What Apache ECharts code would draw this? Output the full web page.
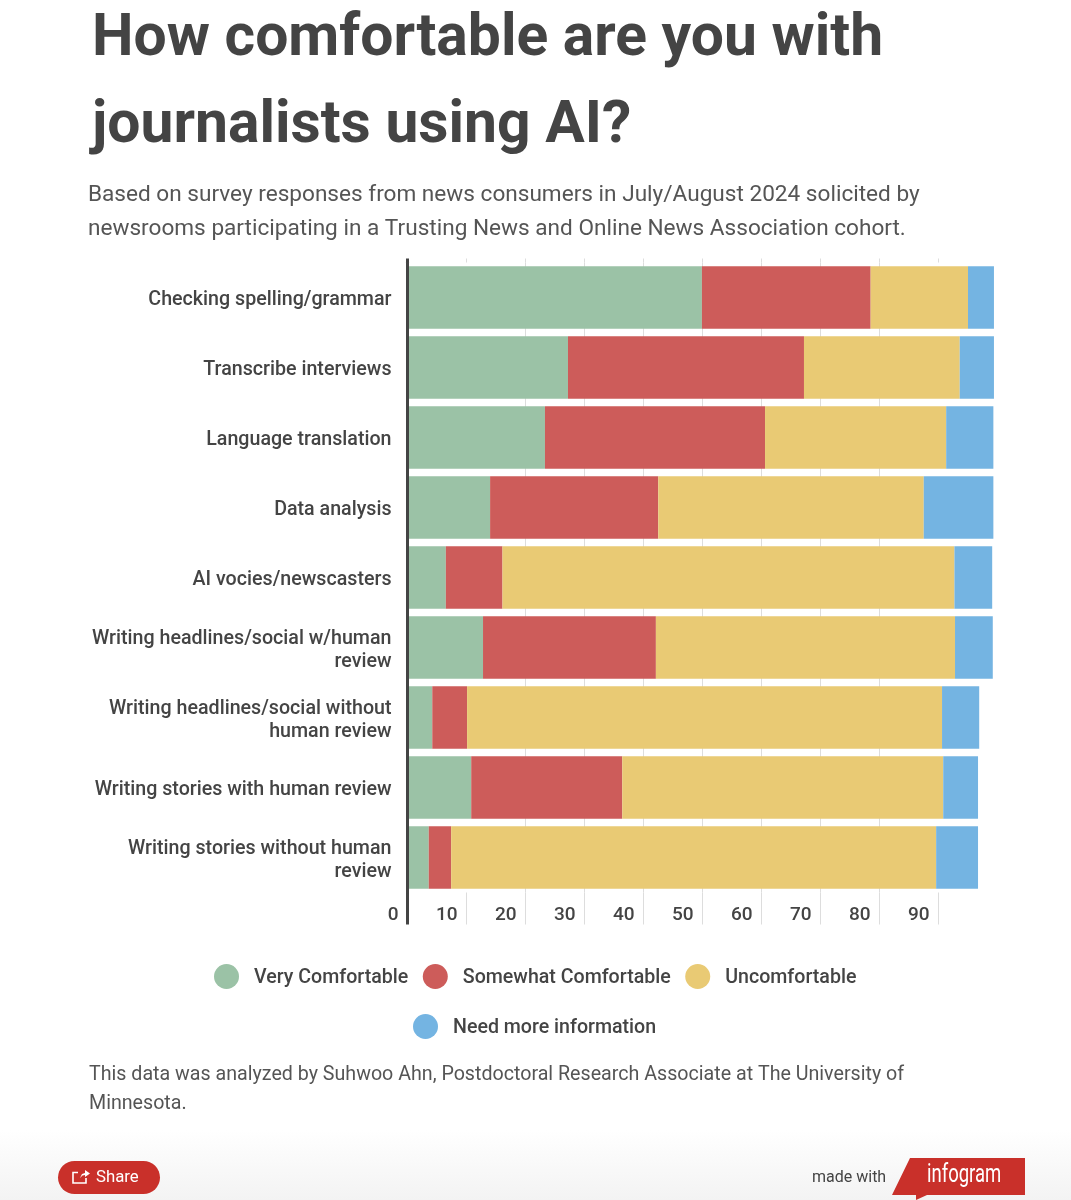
<!DOCTYPE html>
<html><head><meta charset="utf-8">
<style>html,body{margin:0;padding:0;background:#fff}#c{width:1071px;height:1200px}</style>
<script src="https://cdn.jsdelivr.net/npm/echarts@6/dist/echarts.min.js"></script>
</head><body><div id="c"></div>
<script>
const categories = ["Checking spelling/grammar","Transcribe interviews","Language translation","Data analysis","AI vocies/newscasters","Writing headlines/social w/human\nreview","Writing headlines/social without\nhuman review","Writing stories with human review","Writing stories without human\nreview"];
const veryComfortable = [49.9,27.2,23.3,14.0,6.5,12.8,4.2,10.8,3.6];
const somewhatComfortable = [28.6,40.0,37.3,28.5,9.6,29.3,5.9,25.6,3.8];
const uncomfortable = [16.5,26.4,30.7,45.0,76.6,50.7,80.5,54.4,82.2];
const needMoreInfo = [4.4,5.8,8.0,11.8,6.4,6.4,6.3,5.9,7.1];
const xTicks = [0,10,20,30,40,50,60,70,80,90];
const gridTicks = [10,20,30,40,50,60,70,80,90];
const F = 'Roboto, sans-serif';
const INK = '#444444';
const colors = {v:'#9bc2a6',s:'#cd5c5a',u:'#e9ca74',n:'#74b4e2'};
function bar(name,data,color){return {name,type:'bar',stack:'t',data,barWidth:62.5,itemStyle:{color},emphasis:{disabled:true}};}
function richLines(v){return String(v).split('\n').map(l=>'{a|'+l+'}').join('\n');}
const legendBase = {icon:'circle',itemWidth:25,itemHeight:25,itemGap:14.5,padding:0,formatter:richLines,
  textStyle:{padding:[4,0,0,10],rich:{a:{fontFamily:F,fontSize:19.6,fontWeight:500,color:INK,lineHeight:24}}},selectedMode:false};
const chart = echarts.init(document.getElementById('c'),null,{renderer:'canvas'});
chart.setOption({
  animation:false,backgroundColor:'#fff',
  title:[
    {text:'How comfortable are you with\njournalists using AI?',left:92,top:-3.5,padding:0,textStyle:{fontFamily:F,fontSize:58.8,fontWeight:700,color:INK,lineHeight:87.5}},
    {text:'Based on survey responses from news consumers in July/August 2024 solicited by\nnewsrooms participating in a Trusting News and Online News Association cohort.',left:88,top:178.5,padding:0,textStyle:{fontFamily:F,fontSize:22.6,fontWeight:400,color:'#555555',lineHeight:34}},
    {text:'This data was analyzed by Suhwoo Ahn, Postdoctoral Research Associate at The University of\nMinnesota.',left:89,top:1061,padding:0,textStyle:{fontFamily:F,fontSize:19.65,fontWeight:400,color:'#555555',lineHeight:29}}
  ],
  grid:{left:407.5,top:262.5,width:590,height:630,containLabel:false},
  xAxis:[
    {type:'value',min:0,max:100,position:'bottom',
     axisLine:{show:false},
     axisTick:{show:true,length:32,lineStyle:{color:'#dddddd',width:1},customValues:gridTicks},
     axisLabel:{show:true,customValues:xTicks,align:'right',padding:[0,9,0,0],margin:13,fontFamily:F,fontSize:19,fontWeight:500,color:INK},
     splitLine:{show:true,showMinLine:false,showMaxLine:false,lineStyle:{color:'#dddddd',width:1}}},
    {type:'value',min:0,max:100,position:'bottom',axisLine:{show:false},
     axisTick:{show:true,length:32,customValues:[0],lineStyle:{color:INK,width:3}},
     axisLabel:{show:false},splitLine:{show:false}},
    {type:'value',min:0,max:100,position:'top',axisLine:{show:false},
     axisTick:{show:true,length:4,customValues:[0],lineStyle:{color:INK,width:3}},
     axisLabel:{show:false},splitLine:{show:false}},
    {type:'value',min:0,max:100,position:'top',axisLine:{show:false},
     axisTick:{show:true,length:4,customValues:gridTicks,lineStyle:{color:'#dddddd',width:1}},
     axisLabel:{show:false},splitLine:{show:false}}
  ],
  yAxis:{type:'category',inverse:true,data:categories,z:3,
    axisLine:{show:true,lineStyle:{color:INK,width:3}},axisTick:{show:false},
    axisLabel:{margin:16,align:'right',formatter:richLines,padding:[6,0,0,0],
      rich:{a:{fontFamily:F,fontSize:19.65,fontWeight:500,color:INK,lineHeight:23,align:'right'}}}},
  legend:[
    Object.assign({},legendBase,{data:['Very Comfortable','Somewhat Comfortable','Uncomfortable'],left:214,top:964}),
    Object.assign({},legendBase,{data:['Need more information'],left:413,top:1014})
  ],
  series:[bar('Very Comfortable',veryComfortable,colors.v),bar('Somewhat Comfortable',somewhatComfortable,colors.s),bar('Uncomfortable',uncomfortable,colors.u),bar('Need more information',needMoreInfo,colors.n)],
  graphic:[
    {type:'rect',z:-10,silent:true,shape:{x:0,y:1130,width:1071,height:70},style:{fill:new echarts.graphic.LinearGradient(0,0,0,1,[{offset:0,color:'#ffffff'},{offset:1,color:'#f3f3f3'}])}},
    {type:'rect',shape:{x:58,y:1161,width:102,height:33,r:16.5},style:{fill:'#c9302a'}},
    {type:'polyline',shape:{points:[[78,1172.5],[73,1172.5],[73,1183],[86,1183],[86,1178]]},style:{fill:null,stroke:'#ffffff',lineWidth:1.6}},
    {type:'polygon',shape:{points:[[80,1178],[82,1174],[85,1173],[85,1170],[90,1173.5],[85,1177],[85,1175],[82.5,1175.5]]},style:{fill:'#ffffff'}},
    {type:'text',style:{x:96,y:1177.5,text:'Share',font:'400 16.8px Roboto, sans-serif',fill:'#ffffff',verticalAlign:'middle'}},
    {type:'text',style:{x:812,y:1177.5,text:'made with',font:'400 16px Roboto, sans-serif',fill:'#444444',verticalAlign:'middle'}},
    {type:'polygon',shape:{points:[[910,1158],[1025,1158],[1025,1195],[927,1195],[916,1200],[916,1195],[892,1195]]},style:{fill:'#c9302a'}},
    {type:'text',x:927,y:1176,scaleX:0.74,style:{x:0,y:0,text:'infogram',font:'400 25px Roboto, sans-serif',fill:'#ffffff',verticalAlign:'middle'}}
  ]
});
</script></body></html>
